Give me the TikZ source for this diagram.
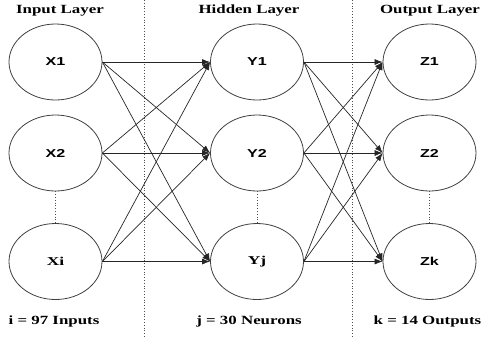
\documentclass[tikz,border=0pt]{standalone}
\usepackage{fontspec}
\setmainfont{Liberation Serif}
\newfontfamily\labsans{Liberation Sans}
\usetikzlibrary{shapes.geometric,arrows.meta}
\newcommand\wtitle[1]{\scalebox{1.35}[1]{\fontsize{12.5}{14}\selectfont\bfseries #1}}
\newcommand\nsans[1]{\scalebox{1.4}[1]{\labsans\fontsize{11.5}{13}\selectfont\bfseries #1}}
\newcommand\nserif[1]{\scalebox{1.45}[1]{\fontsize{12}{14}\selectfont\bfseries #1}}
\begin{document}
\begin{tikzpicture}[x=1pt,y=-1pt,
 neuron/.style={ellipse,draw=black!75,line width=0.8pt,minimum width=93pt,minimum height=76pt,inner sep=0pt},
 conn/.style={-{Latex[length=8pt,width=6pt]},line width=0.7pt,black!85},
 sepline/.style={dotted,line width=0.8pt,black!70},
 lbl/.style={anchor=base,inner sep=0pt},
]
\useasboundingbox (0,0) rectangle (484,341);
% separators
\coordinate (s1t) at (144,0); \coordinate (s1b) at (144,338);
\coordinate (s2t) at (352,0); \coordinate (s2b) at (352,338);
\draw[sepline] (s1t) -- (s1b);
\draw[sepline] (s2t) -- (s2b);
% titles
\node[lbl] (tin) at (60,13.5) {\wtitle{Input Layer}};
\node[lbl] (thid) at (249,13.5) {\wtitle{Hidden Layer}};
\node[lbl] (tout) at (430,13.5) {\wtitle{Output Layer}};
% bottom labels
\node[lbl] (bin) at (54,324) {\wtitle{i = 97 Inputs}};
\node[lbl] (bhid) at (249,324) {\wtitle{j = 30 Neurons}};
\node[lbl] (bout) at (427.5,324) {\wtitle{k = 14 Outputs}};
% neurons
\node[neuron] (X1) at (55.5,62) {\nsans{X1}};
\node[neuron] (X2) at (55.5,153) {\nsans{X2}};
\node[neuron] (Xi) at (55.5,261.5) {\nserif{Xi}};
\node[neuron] (Y1) at (257,62) {\nsans{Y1}};
\node[neuron] (Y2) at (257,153) {\nsans{Y2}};
\node[neuron] (Yj) at (257,261.5) {\nserif{Yj}};
\node[neuron] (Z1) at (429.5,62) {\nsans{Z1}};
\node[neuron] (Z2) at (429.5,153) {\nsans{Z2}};
\node[neuron] (Zk) at (429.5,261.5) {\nsans{Zk}};
% dots between nodes
\draw[sepline] (X2.south) -- (Xi.north);
\draw[sepline] (Y2.south) -- (Yj.north);
\draw[sepline] (Z2.south) -- (Zk.north);
% connections
\foreach \a in {X1,X2,Xi}
  \foreach \b in {Y1,Y2,Yj}
    \draw[conn] (\a.east) -- (\b.west);
\foreach \a in {Y1,Y2,Yj}
  \foreach \b in {Z1,Z2,Zk}
    \draw[conn] (\a.east) -- (\b.west);
\end{tikzpicture}
\end{document}
